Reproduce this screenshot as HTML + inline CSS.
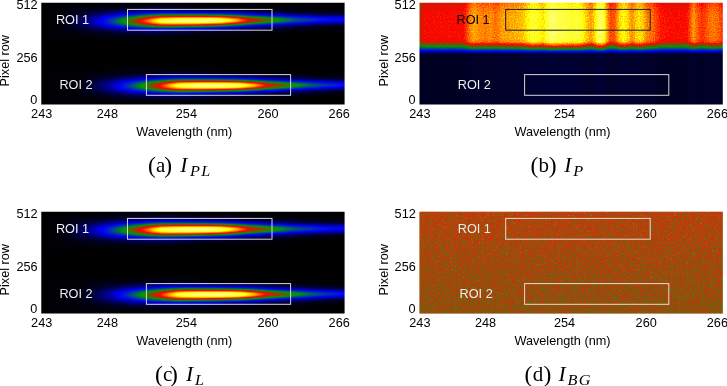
<!DOCTYPE html>
<html><head><meta charset="utf-8"><title>figure</title>
<style>
html,body{margin:0;padding:0;background:#fff;}
body{width:727px;height:386px;overflow:hidden;}
svg{display:block;}
.t text{font-family:"Liberation Sans",sans-serif;font-size:12.7px;}
.c text{font-family:"Liberation Serif",serif;font-size:21px;}
</style></head>
<body>
<svg width="727" height="386" viewBox="0 0 727 386">
<defs>
<linearGradient id="s1" gradientUnits="userSpaceOnUse" x1="35.3" y1="0" x2="350.6" y2="0"><stop offset="0.0000" stop-color="rgb(0,0,0)"/><stop offset="0.0091" stop-color="rgb(0,0,0)"/><stop offset="0.0182" stop-color="rgb(0,0,0)"/><stop offset="0.0273" stop-color="rgb(0,0,0)"/><stop offset="0.0364" stop-color="rgb(1,0,0)"/><stop offset="0.0455" stop-color="rgb(1,0,0)"/><stop offset="0.0545" stop-color="rgb(1,0,0)"/><stop offset="0.0636" stop-color="rgb(2,0,0)"/><stop offset="0.0727" stop-color="rgb(2,0,0)"/><stop offset="0.0818" stop-color="rgb(3,0,0)"/><stop offset="0.0909" stop-color="rgb(4,0,0)"/><stop offset="0.1000" stop-color="rgb(6,0,0)"/><stop offset="0.1091" stop-color="rgb(7,1,0)"/><stop offset="0.1182" stop-color="rgb(9,1,0)"/><stop offset="0.1273" stop-color="rgb(12,1,0)"/><stop offset="0.1364" stop-color="rgb(15,2,0)"/><stop offset="0.1455" stop-color="rgb(17,2,0)"/><stop offset="0.1545" stop-color="rgb(20,3,0)"/><stop offset="0.1636" stop-color="rgb(23,3,0)"/><stop offset="0.1727" stop-color="rgb(26,4,0)"/><stop offset="0.1818" stop-color="rgb(30,5,0)"/><stop offset="0.1909" stop-color="rgb(34,6,0)"/><stop offset="0.2000" stop-color="rgb(38,7,0)"/><stop offset="0.2091" stop-color="rgb(42,8,0)"/><stop offset="0.2182" stop-color="rgb(45,10,0)"/><stop offset="0.2273" stop-color="rgb(49,13,0)"/><stop offset="0.2364" stop-color="rgb(52,16,0)"/><stop offset="0.2455" stop-color="rgb(55,20,0)"/><stop offset="0.2545" stop-color="rgb(58,23,0)"/><stop offset="0.2636" stop-color="rgb(61,28,0)"/><stop offset="0.2727" stop-color="rgb(64,32,0)"/><stop offset="0.2818" stop-color="rgb(67,37,0)"/><stop offset="0.2909" stop-color="rgb(69,43,0)"/><stop offset="0.3000" stop-color="rgb(71,48,0)"/><stop offset="0.3091" stop-color="rgb(72,55,0)"/><stop offset="0.3182" stop-color="rgb(74,62,0)"/><stop offset="0.3273" stop-color="rgb(75,69,0)"/><stop offset="0.3364" stop-color="rgb(76,77,0)"/><stop offset="0.3455" stop-color="rgb(77,86,0)"/><stop offset="0.3545" stop-color="rgb(77,95,0)"/><stop offset="0.3636" stop-color="rgb(77,105,0)"/><stop offset="0.3727" stop-color="rgb(77,115,0)"/><stop offset="0.3818" stop-color="rgb(75,125,0)"/><stop offset="0.3909" stop-color="rgb(73,135,0)"/><stop offset="0.4000" stop-color="rgb(71,146,0)"/><stop offset="0.4091" stop-color="rgb(66,153,0)"/><stop offset="0.4182" stop-color="rgb(62,160,0)"/><stop offset="0.4273" stop-color="rgb(57,168,0)"/><stop offset="0.4364" stop-color="rgb(52,174,0)"/><stop offset="0.4455" stop-color="rgb(47,181,0)"/><stop offset="0.4545" stop-color="rgb(41,187,0)"/><stop offset="0.4636" stop-color="rgb(36,194,0)"/><stop offset="0.4727" stop-color="rgb(31,201,0)"/><stop offset="0.4818" stop-color="rgb(25,207,0)"/><stop offset="0.4909" stop-color="rgb(19,213,0)"/><stop offset="0.5000" stop-color="rgb(14,218,0)"/><stop offset="0.5091" stop-color="rgb(8,224,0)"/><stop offset="0.5182" stop-color="rgb(3,229,0)"/><stop offset="0.5273" stop-color="rgb(0,230,2)"/><stop offset="0.5364" stop-color="rgb(0,225,7)"/><stop offset="0.5455" stop-color="rgb(0,220,11)"/><stop offset="0.5545" stop-color="rgb(0,214,16)"/><stop offset="0.5636" stop-color="rgb(0,208,20)"/><stop offset="0.5727" stop-color="rgb(0,203,24)"/><stop offset="0.5818" stop-color="rgb(0,197,28)"/><stop offset="0.5909" stop-color="rgb(0,191,32)"/><stop offset="0.6000" stop-color="rgb(0,181,35)"/><stop offset="0.6091" stop-color="rgb(0,172,38)"/><stop offset="0.6182" stop-color="rgb(0,163,41)"/><stop offset="0.6273" stop-color="rgb(0,154,44)"/><stop offset="0.6364" stop-color="rgb(0,146,46)"/><stop offset="0.6455" stop-color="rgb(0,135,47)"/><stop offset="0.6545" stop-color="rgb(0,125,48)"/><stop offset="0.6636" stop-color="rgb(0,115,49)"/><stop offset="0.6727" stop-color="rgb(0,106,49)"/><stop offset="0.6818" stop-color="rgb(0,99,50)"/><stop offset="0.6909" stop-color="rgb(0,93,51)"/><stop offset="0.7000" stop-color="rgb(0,87,52)"/><stop offset="0.7091" stop-color="rgb(0,82,53)"/><stop offset="0.7182" stop-color="rgb(0,76,53)"/><stop offset="0.7273" stop-color="rgb(0,71,54)"/><stop offset="0.7364" stop-color="rgb(0,66,54)"/><stop offset="0.7455" stop-color="rgb(0,61,54)"/><stop offset="0.7545" stop-color="rgb(0,57,54)"/><stop offset="0.7636" stop-color="rgb(0,53,54)"/><stop offset="0.7727" stop-color="rgb(0,48,54)"/><stop offset="0.7818" stop-color="rgb(0,45,54)"/><stop offset="0.7909" stop-color="rgb(0,41,53)"/><stop offset="0.8000" stop-color="rgb(0,38,53)"/><stop offset="0.8091" stop-color="rgb(0,34,52)"/><stop offset="0.8182" stop-color="rgb(0,31,51)"/><stop offset="0.8273" stop-color="rgb(0,28,51)"/><stop offset="0.8364" stop-color="rgb(0,26,51)"/><stop offset="0.8455" stop-color="rgb(0,24,51)"/><stop offset="0.8545" stop-color="rgb(0,22,50)"/><stop offset="0.8636" stop-color="rgb(0,20,50)"/><stop offset="0.8727" stop-color="rgb(0,18,50)"/><stop offset="0.8818" stop-color="rgb(0,16,49)"/><stop offset="0.8909" stop-color="rgb(0,14,49)"/><stop offset="0.9000" stop-color="rgb(0,13,48)"/><stop offset="0.9091" stop-color="rgb(0,11,48)"/><stop offset="0.9182" stop-color="rgb(0,10,48)"/><stop offset="0.9273" stop-color="rgb(0,8,48)"/><stop offset="0.9364" stop-color="rgb(0,7,48)"/><stop offset="0.9455" stop-color="rgb(0,6,48)"/><stop offset="0.9545" stop-color="rgb(0,5,48)"/><stop offset="0.9636" stop-color="rgb(0,4,48)"/><stop offset="0.9727" stop-color="rgb(0,3,48)"/><stop offset="0.9818" stop-color="rgb(0,2,48)"/><stop offset="0.9909" stop-color="rgb(0,2,48)"/><stop offset="1.0000" stop-color="rgb(0,2,48)"/></linearGradient>
<linearGradient id="s2" gradientUnits="userSpaceOnUse" x1="35.3" y1="0" x2="350.6" y2="0"><stop offset="0.0000" stop-color="rgb(0,0,0)"/><stop offset="0.0091" stop-color="rgb(0,0,0)"/><stop offset="0.0182" stop-color="rgb(0,0,0)"/><stop offset="0.0273" stop-color="rgb(0,0,0)"/><stop offset="0.0364" stop-color="rgb(0,0,0)"/><stop offset="0.0455" stop-color="rgb(1,0,0)"/><stop offset="0.0545" stop-color="rgb(1,0,0)"/><stop offset="0.0636" stop-color="rgb(1,0,0)"/><stop offset="0.0727" stop-color="rgb(1,0,0)"/><stop offset="0.0818" stop-color="rgb(1,0,0)"/><stop offset="0.0909" stop-color="rgb(2,0,0)"/><stop offset="0.1000" stop-color="rgb(2,0,0)"/><stop offset="0.1091" stop-color="rgb(2,0,0)"/><stop offset="0.1182" stop-color="rgb(2,0,0)"/><stop offset="0.1273" stop-color="rgb(2,0,0)"/><stop offset="0.1364" stop-color="rgb(3,0,0)"/><stop offset="0.1455" stop-color="rgb(4,0,0)"/><stop offset="0.1545" stop-color="rgb(5,0,0)"/><stop offset="0.1636" stop-color="rgb(7,1,0)"/><stop offset="0.1727" stop-color="rgb(9,1,0)"/><stop offset="0.1818" stop-color="rgb(11,1,0)"/><stop offset="0.1909" stop-color="rgb(14,1,0)"/><stop offset="0.2000" stop-color="rgb(16,2,0)"/><stop offset="0.2091" stop-color="rgb(20,2,0)"/><stop offset="0.2182" stop-color="rgb(23,3,0)"/><stop offset="0.2273" stop-color="rgb(26,4,0)"/><stop offset="0.2364" stop-color="rgb(29,4,0)"/><stop offset="0.2455" stop-color="rgb(33,5,0)"/><stop offset="0.2545" stop-color="rgb(37,6,0)"/><stop offset="0.2636" stop-color="rgb(41,8,0)"/><stop offset="0.2727" stop-color="rgb(44,10,0)"/><stop offset="0.2818" stop-color="rgb(48,12,0)"/><stop offset="0.2909" stop-color="rgb(51,15,0)"/><stop offset="0.3000" stop-color="rgb(54,19,0)"/><stop offset="0.3091" stop-color="rgb(57,22,0)"/><stop offset="0.3182" stop-color="rgb(61,26,0)"/><stop offset="0.3273" stop-color="rgb(63,31,0)"/><stop offset="0.3364" stop-color="rgb(66,36,0)"/><stop offset="0.3455" stop-color="rgb(68,41,0)"/><stop offset="0.3545" stop-color="rgb(70,47,0)"/><stop offset="0.3636" stop-color="rgb(72,53,0)"/><stop offset="0.3727" stop-color="rgb(73,60,0)"/><stop offset="0.3818" stop-color="rgb(75,67,0)"/><stop offset="0.3909" stop-color="rgb(76,75,0)"/><stop offset="0.4000" stop-color="rgb(76,83,0)"/><stop offset="0.4091" stop-color="rgb(77,93,0)"/><stop offset="0.4182" stop-color="rgb(77,102,0)"/><stop offset="0.4273" stop-color="rgb(77,113,0)"/><stop offset="0.4364" stop-color="rgb(76,122,0)"/><stop offset="0.4455" stop-color="rgb(74,132,0)"/><stop offset="0.4545" stop-color="rgb(71,143,0)"/><stop offset="0.4636" stop-color="rgb(68,151,0)"/><stop offset="0.4727" stop-color="rgb(63,158,0)"/><stop offset="0.4818" stop-color="rgb(58,166,0)"/><stop offset="0.4909" stop-color="rgb(53,172,0)"/><stop offset="0.5000" stop-color="rgb(48,179,0)"/><stop offset="0.5091" stop-color="rgb(43,186,0)"/><stop offset="0.5182" stop-color="rgb(38,192,0)"/><stop offset="0.5273" stop-color="rgb(32,199,0)"/><stop offset="0.5364" stop-color="rgb(27,205,0)"/><stop offset="0.5455" stop-color="rgb(21,211,0)"/><stop offset="0.5545" stop-color="rgb(15,217,0)"/><stop offset="0.5636" stop-color="rgb(10,222,0)"/><stop offset="0.5727" stop-color="rgb(4,228,0)"/><stop offset="0.5818" stop-color="rgb(0,231,1)"/><stop offset="0.5909" stop-color="rgb(0,226,6)"/><stop offset="0.6000" stop-color="rgb(0,221,10)"/><stop offset="0.6091" stop-color="rgb(0,216,14)"/><stop offset="0.6182" stop-color="rgb(0,210,19)"/><stop offset="0.6273" stop-color="rgb(0,204,23)"/><stop offset="0.6364" stop-color="rgb(0,199,27)"/><stop offset="0.6455" stop-color="rgb(0,193,31)"/><stop offset="0.6545" stop-color="rgb(0,184,34)"/><stop offset="0.6636" stop-color="rgb(0,175,38)"/><stop offset="0.6727" stop-color="rgb(0,165,40)"/><stop offset="0.6818" stop-color="rgb(0,157,43)"/><stop offset="0.6909" stop-color="rgb(0,148,45)"/><stop offset="0.7000" stop-color="rgb(0,138,47)"/><stop offset="0.7091" stop-color="rgb(0,128,48)"/><stop offset="0.7182" stop-color="rgb(0,118,49)"/><stop offset="0.7273" stop-color="rgb(0,109,49)"/><stop offset="0.7364" stop-color="rgb(0,101,50)"/><stop offset="0.7455" stop-color="rgb(0,95,51)"/><stop offset="0.7545" stop-color="rgb(0,89,52)"/><stop offset="0.7636" stop-color="rgb(0,83,53)"/><stop offset="0.7727" stop-color="rgb(0,78,53)"/><stop offset="0.7818" stop-color="rgb(0,73,54)"/><stop offset="0.7909" stop-color="rgb(0,68,54)"/><stop offset="0.8000" stop-color="rgb(0,63,54)"/><stop offset="0.8091" stop-color="rgb(0,58,54)"/><stop offset="0.8182" stop-color="rgb(0,54,54)"/><stop offset="0.8273" stop-color="rgb(0,50,54)"/><stop offset="0.8364" stop-color="rgb(0,46,54)"/><stop offset="0.8455" stop-color="rgb(0,42,53)"/><stop offset="0.8545" stop-color="rgb(0,39,53)"/><stop offset="0.8636" stop-color="rgb(0,35,52)"/><stop offset="0.8727" stop-color="rgb(0,32,52)"/><stop offset="0.8818" stop-color="rgb(0,29,51)"/><stop offset="0.8909" stop-color="rgb(0,27,51)"/><stop offset="0.9000" stop-color="rgb(0,24,51)"/><stop offset="0.9091" stop-color="rgb(0,22,50)"/><stop offset="0.9182" stop-color="rgb(0,20,50)"/><stop offset="0.9273" stop-color="rgb(0,18,50)"/><stop offset="0.9364" stop-color="rgb(0,16,49)"/><stop offset="0.9455" stop-color="rgb(0,15,49)"/><stop offset="0.9545" stop-color="rgb(0,13,48)"/><stop offset="0.9636" stop-color="rgb(0,11,47)"/><stop offset="0.9727" stop-color="rgb(0,10,46)"/><stop offset="0.9818" stop-color="rgb(0,8,44)"/><stop offset="0.9909" stop-color="rgb(0,7,45)"/><stop offset="1.0000" stop-color="rgb(0,6,46)"/></linearGradient>
<linearGradient id="v1" gradientUnits="userSpaceOnUse" x1="0" y1="-3.2" x2="0" y2="53.0"><stop offset="0.0000" stop-color="rgb(0,0,0)"/><stop offset="0.0106" stop-color="rgb(0,0,0)"/><stop offset="0.0213" stop-color="rgb(0,0,0)"/><stop offset="0.0319" stop-color="rgb(0,0,0)"/><stop offset="0.0426" stop-color="rgb(0,0,0)"/><stop offset="0.0532" stop-color="rgb(0,0,0)"/><stop offset="0.0638" stop-color="rgb(1,0,0)"/><stop offset="0.0745" stop-color="rgb(1,0,0)"/><stop offset="0.0851" stop-color="rgb(1,0,0)"/><stop offset="0.0957" stop-color="rgb(2,0,0)"/><stop offset="0.1064" stop-color="rgb(2,0,0)"/><stop offset="0.1170" stop-color="rgb(3,0,0)"/><stop offset="0.1277" stop-color="rgb(4,0,0)"/><stop offset="0.1383" stop-color="rgb(6,0,0)"/><stop offset="0.1489" stop-color="rgb(7,1,0)"/><stop offset="0.1596" stop-color="rgb(10,1,0)"/><stop offset="0.1702" stop-color="rgb(13,2,0)"/><stop offset="0.1809" stop-color="rgb(16,3,0)"/><stop offset="0.1915" stop-color="rgb(20,4,0)"/><stop offset="0.2021" stop-color="rgb(26,6,0)"/><stop offset="0.2128" stop-color="rgb(32,8,0)"/><stop offset="0.2234" stop-color="rgb(39,11,0)"/><stop offset="0.2340" stop-color="rgb(47,16,0)"/><stop offset="0.2447" stop-color="rgb(57,21,1)"/><stop offset="0.2553" stop-color="rgb(68,28,2)"/><stop offset="0.2660" stop-color="rgb(80,37,3)"/><stop offset="0.2766" stop-color="rgb(93,47,6)"/><stop offset="0.2872" stop-color="rgb(107,60,10)"/><stop offset="0.2979" stop-color="rgb(122,74,16)"/><stop offset="0.3085" stop-color="rgb(137,91,25)"/><stop offset="0.3191" stop-color="rgb(153,109,38)"/><stop offset="0.3298" stop-color="rgb(169,129,55)"/><stop offset="0.3404" stop-color="rgb(184,149,76)"/><stop offset="0.3511" stop-color="rgb(199,169,102)"/><stop offset="0.3617" stop-color="rgb(213,189,131)"/><stop offset="0.3723" stop-color="rgb(226,208,161)"/><stop offset="0.3830" stop-color="rgb(236,224,191)"/><stop offset="0.3936" stop-color="rgb(245,238,218)"/><stop offset="0.4043" stop-color="rgb(251,248,239)"/><stop offset="0.4149" stop-color="rgb(254,254,252)"/><stop offset="0.4255" stop-color="rgb(255,255,255)"/><stop offset="0.4362" stop-color="rgb(253,252,248)"/><stop offset="0.4468" stop-color="rgb(249,244,232)"/><stop offset="0.4574" stop-color="rgb(242,233,208)"/><stop offset="0.4681" stop-color="rgb(232,218,180)"/><stop offset="0.4787" stop-color="rgb(221,201,149)"/><stop offset="0.4894" stop-color="rgb(208,182,119)"/><stop offset="0.5000" stop-color="rgb(194,162,91)"/><stop offset="0.5106" stop-color="rgb(179,141,67)"/><stop offset="0.5213" stop-color="rgb(163,121,48)"/><stop offset="0.5319" stop-color="rgb(147,102,32)"/><stop offset="0.5426" stop-color="rgb(131,84,21)"/><stop offset="0.5532" stop-color="rgb(116,69,13)"/><stop offset="0.5638" stop-color="rgb(101,55,8)"/><stop offset="0.5745" stop-color="rgb(87,43,5)"/><stop offset="0.5851" stop-color="rgb(75,33,3)"/><stop offset="0.5957" stop-color="rgb(63,25,1)"/><stop offset="0.6064" stop-color="rgb(53,19,1)"/><stop offset="0.6170" stop-color="rgb(44,14,0)"/><stop offset="0.6277" stop-color="rgb(36,10,0)"/><stop offset="0.6383" stop-color="rgb(29,7,0)"/><stop offset="0.6489" stop-color="rgb(23,5,0)"/><stop offset="0.6596" stop-color="rgb(19,3,0)"/><stop offset="0.6702" stop-color="rgb(15,2,0)"/><stop offset="0.6809" stop-color="rgb(11,1,0)"/><stop offset="0.6915" stop-color="rgb(9,1,0)"/><stop offset="0.7021" stop-color="rgb(7,1,0)"/><stop offset="0.7128" stop-color="rgb(5,0,0)"/><stop offset="0.7234" stop-color="rgb(4,0,0)"/><stop offset="0.7340" stop-color="rgb(3,0,0)"/><stop offset="0.7447" stop-color="rgb(2,0,0)"/><stop offset="0.7553" stop-color="rgb(1,0,0)"/><stop offset="0.7660" stop-color="rgb(1,0,0)"/><stop offset="0.7766" stop-color="rgb(1,0,0)"/><stop offset="0.7872" stop-color="rgb(1,0,0)"/><stop offset="0.7979" stop-color="rgb(0,0,0)"/><stop offset="0.8085" stop-color="rgb(0,0,0)"/><stop offset="0.8191" stop-color="rgb(0,0,0)"/><stop offset="0.8298" stop-color="rgb(0,0,0)"/><stop offset="0.8404" stop-color="rgb(0,0,0)"/><stop offset="0.8511" stop-color="rgb(0,0,0)"/><stop offset="0.8617" stop-color="rgb(0,0,0)"/><stop offset="0.8723" stop-color="rgb(0,0,0)"/><stop offset="0.8830" stop-color="rgb(0,0,0)"/><stop offset="0.8936" stop-color="rgb(0,0,0)"/><stop offset="0.9043" stop-color="rgb(0,0,0)"/><stop offset="0.9149" stop-color="rgb(0,0,0)"/><stop offset="0.9255" stop-color="rgb(0,0,0)"/><stop offset="0.9362" stop-color="rgb(0,0,0)"/><stop offset="0.9468" stop-color="rgb(0,0,0)"/><stop offset="0.9574" stop-color="rgb(0,0,0)"/><stop offset="0.9681" stop-color="rgb(0,0,0)"/><stop offset="0.9787" stop-color="rgb(0,0,0)"/><stop offset="0.9894" stop-color="rgb(0,0,0)"/><stop offset="1.0000" stop-color="rgb(0,0,0)"/></linearGradient>
<linearGradient id="v2" gradientUnits="userSpaceOnUse" x1="0" y1="53.0" x2="0" y2="110.6"><stop offset="0.0000" stop-color="rgb(0,0,0)"/><stop offset="0.0104" stop-color="rgb(0,0,0)"/><stop offset="0.0208" stop-color="rgb(0,0,0)"/><stop offset="0.0312" stop-color="rgb(0,0,0)"/><stop offset="0.0417" stop-color="rgb(0,0,0)"/><stop offset="0.0521" stop-color="rgb(0,0,0)"/><stop offset="0.0625" stop-color="rgb(0,0,0)"/><stop offset="0.0729" stop-color="rgb(0,0,0)"/><stop offset="0.0833" stop-color="rgb(0,0,0)"/><stop offset="0.0938" stop-color="rgb(0,0,0)"/><stop offset="0.1042" stop-color="rgb(0,0,0)"/><stop offset="0.1146" stop-color="rgb(0,0,0)"/><stop offset="0.1250" stop-color="rgb(0,0,0)"/><stop offset="0.1354" stop-color="rgb(0,0,0)"/><stop offset="0.1458" stop-color="rgb(0,0,0)"/><stop offset="0.1562" stop-color="rgb(0,0,0)"/><stop offset="0.1667" stop-color="rgb(0,0,0)"/><stop offset="0.1771" stop-color="rgb(0,0,0)"/><stop offset="0.1875" stop-color="rgb(0,0,0)"/><stop offset="0.1979" stop-color="rgb(0,0,0)"/><stop offset="0.2083" stop-color="rgb(0,0,0)"/><stop offset="0.2188" stop-color="rgb(0,0,0)"/><stop offset="0.2292" stop-color="rgb(1,0,0)"/><stop offset="0.2396" stop-color="rgb(1,0,0)"/><stop offset="0.2500" stop-color="rgb(1,0,0)"/><stop offset="0.2604" stop-color="rgb(2,0,0)"/><stop offset="0.2708" stop-color="rgb(2,0,0)"/><stop offset="0.2812" stop-color="rgb(3,0,0)"/><stop offset="0.2917" stop-color="rgb(5,0,0)"/><stop offset="0.3021" stop-color="rgb(6,1,0)"/><stop offset="0.3125" stop-color="rgb(8,1,0)"/><stop offset="0.3229" stop-color="rgb(11,1,0)"/><stop offset="0.3333" stop-color="rgb(14,2,0)"/><stop offset="0.3438" stop-color="rgb(18,3,0)"/><stop offset="0.3542" stop-color="rgb(23,5,0)"/><stop offset="0.3646" stop-color="rgb(29,7,0)"/><stop offset="0.3750" stop-color="rgb(36,10,0)"/><stop offset="0.3854" stop-color="rgb(45,14,0)"/><stop offset="0.3958" stop-color="rgb(54,19,1)"/><stop offset="0.4062" stop-color="rgb(65,26,2)"/><stop offset="0.4167" stop-color="rgb(77,35,3)"/><stop offset="0.4271" stop-color="rgb(91,46,5)"/><stop offset="0.4375" stop-color="rgb(105,59,9)"/><stop offset="0.4479" stop-color="rgb(121,74,16)"/><stop offset="0.4583" stop-color="rgb(137,91,25)"/><stop offset="0.4688" stop-color="rgb(154,110,39)"/><stop offset="0.4792" stop-color="rgb(170,131,56)"/><stop offset="0.4896" stop-color="rgb(187,152,79)"/><stop offset="0.5000" stop-color="rgb(202,173,107)"/><stop offset="0.5104" stop-color="rgb(216,194,138)"/><stop offset="0.5208" stop-color="rgb(229,213,170)"/><stop offset="0.5312" stop-color="rgb(239,229,200)"/><stop offset="0.5417" stop-color="rgb(247,242,227)"/><stop offset="0.5521" stop-color="rgb(252,251,245)"/><stop offset="0.5625" stop-color="rgb(255,255,254)"/><stop offset="0.5729" stop-color="rgb(254,254,253)"/><stop offset="0.5833" stop-color="rgb(251,248,240)"/><stop offset="0.5938" stop-color="rgb(245,238,219)"/><stop offset="0.6042" stop-color="rgb(236,224,190)"/><stop offset="0.6146" stop-color="rgb(225,207,159)"/><stop offset="0.6250" stop-color="rgb(212,187,127)"/><stop offset="0.6354" stop-color="rgb(197,166,97)"/><stop offset="0.6458" stop-color="rgb(181,145,71)"/><stop offset="0.6562" stop-color="rgb(165,124,50)"/><stop offset="0.6667" stop-color="rgb(148,104,34)"/><stop offset="0.6771" stop-color="rgb(132,85,22)"/><stop offset="0.6875" stop-color="rgb(116,69,13)"/><stop offset="0.6979" stop-color="rgb(100,54,8)"/><stop offset="0.7083" stop-color="rgb(86,42,4)"/><stop offset="0.7188" stop-color="rgb(73,32,2)"/><stop offset="0.7292" stop-color="rgb(61,24,1)"/><stop offset="0.7396" stop-color="rgb(51,17,1)"/><stop offset="0.7500" stop-color="rgb(42,13,0)"/><stop offset="0.7604" stop-color="rgb(34,9,0)"/><stop offset="0.7708" stop-color="rgb(27,6,0)"/><stop offset="0.7812" stop-color="rgb(21,4,0)"/><stop offset="0.7917" stop-color="rgb(17,3,0)"/><stop offset="0.8021" stop-color="rgb(13,2,0)"/><stop offset="0.8125" stop-color="rgb(10,1,0)"/><stop offset="0.8229" stop-color="rgb(7,1,0)"/><stop offset="0.8333" stop-color="rgb(6,0,0)"/><stop offset="0.8438" stop-color="rgb(4,0,0)"/><stop offset="0.8542" stop-color="rgb(3,0,0)"/><stop offset="0.8646" stop-color="rgb(2,0,0)"/><stop offset="0.8750" stop-color="rgb(2,0,0)"/><stop offset="0.8854" stop-color="rgb(1,0,0)"/><stop offset="0.8958" stop-color="rgb(1,0,0)"/><stop offset="0.9062" stop-color="rgb(1,0,0)"/><stop offset="0.9167" stop-color="rgb(0,0,0)"/><stop offset="0.9271" stop-color="rgb(0,0,0)"/><stop offset="0.9375" stop-color="rgb(0,0,0)"/><stop offset="0.9479" stop-color="rgb(0,0,0)"/><stop offset="0.9583" stop-color="rgb(0,0,0)"/><stop offset="0.9688" stop-color="rgb(0,0,0)"/><stop offset="0.9792" stop-color="rgb(0,0,0)"/><stop offset="0.9896" stop-color="rgb(0,0,0)"/><stop offset="1.0000" stop-color="rgb(0,0,0)"/></linearGradient>
<linearGradient id="hb" gradientUnits="userSpaceOnUse" x1="41.3" y1="0" x2="344.6" y2="0"><stop offset="0.0007" stop-color="#878787"/><stop offset="0.0066" stop-color="#919191"/><stop offset="0.0148" stop-color="#989898"/><stop offset="0.0676" stop-color="#999999"/><stop offset="0.1434" stop-color="#999999"/><stop offset="0.1533" stop-color="#a2a2a2"/><stop offset="0.1665" stop-color="#b2b2b2"/><stop offset="0.1797" stop-color="#bbbbbb"/><stop offset="0.1962" stop-color="#b5b5b5"/><stop offset="0.2160" stop-color="#b2b2b2"/><stop offset="0.2357" stop-color="#b6b6b6"/><stop offset="0.2489" stop-color="#afafaf"/><stop offset="0.2588" stop-color="#b2b2b2"/><stop offset="0.2720" stop-color="#b9b9b9"/><stop offset="0.3050" stop-color="#bbbbbb"/><stop offset="0.3379" stop-color="#bfbfbf"/><stop offset="0.3511" stop-color="#c7c7c7"/><stop offset="0.3610" stop-color="#cfcfcf"/><stop offset="0.3742" stop-color="#d6d6d6"/><stop offset="0.3907" stop-color="#d1d1d1"/><stop offset="0.4072" stop-color="#c9c9c9"/><stop offset="0.4204" stop-color="#d6d6d6"/><stop offset="0.4369" stop-color="#e3e3e3"/><stop offset="0.4566" stop-color="#dbdbdb"/><stop offset="0.4830" stop-color="#d9d9d9"/><stop offset="0.5028" stop-color="#d4d4d4"/><stop offset="0.5193" stop-color="#d9d9d9"/><stop offset="0.5358" stop-color="#d1d1d1"/><stop offset="0.5490" stop-color="#c4c4c4"/><stop offset="0.5654" stop-color="#b8b8b8"/><stop offset="0.5786" stop-color="#c7c7c7"/><stop offset="0.5869" stop-color="#d9d9d9"/><stop offset="0.5978" stop-color="#e0e0e0"/><stop offset="0.6076" stop-color="#d9d9d9"/><stop offset="0.6166" stop-color="#bfbfbf"/><stop offset="0.6297" stop-color="#a7a7a7"/><stop offset="0.6446" stop-color="#ababab"/><stop offset="0.6578" stop-color="#c2c2c2"/><stop offset="0.6736" stop-color="#cfcfcf"/><stop offset="0.6874" stop-color="#c4c4c4"/><stop offset="0.7006" stop-color="#b5b5b5"/><stop offset="0.7122" stop-color="#c1c1c1"/><stop offset="0.7237" stop-color="#c7c7c7"/><stop offset="0.7369" stop-color="#c2c2c2"/><stop offset="0.7501" stop-color="#b2b2b2"/><stop offset="0.7666" stop-color="#b0b0b0"/><stop offset="0.7798" stop-color="#a7a7a7"/><stop offset="0.7962" stop-color="#9d9d9d"/><stop offset="0.8259" stop-color="#9a9a9a"/><stop offset="0.8820" stop-color="#9a9a9a"/><stop offset="0.8919" stop-color="#a8a8a8"/><stop offset="0.9034" stop-color="#b8b8b8"/><stop offset="0.9149" stop-color="#adadad"/><stop offset="0.9314" stop-color="#a2a2a2"/><stop offset="0.9446" stop-color="#a8a8a8"/><stop offset="0.9578" stop-color="#afafaf"/><stop offset="0.9677" stop-color="#b1b1b1"/><stop offset="0.9842" stop-color="#adadad"/><stop offset="0.9941" stop-color="#a7a7a7"/><stop offset="0.9993" stop-color="#a3a3a3"/></linearGradient>
<linearGradient id="vb" gradientUnits="userSpaceOnUse" x1="0" y1="2.8" x2="0" y2="104.6"><stop offset="0.0000" stop-color="#000" stop-opacity="0.0600"/><stop offset="0.0511" stop-color="#000" stop-opacity="0.0250"/><stop offset="0.1198" stop-color="#000" stop-opacity="0.0000"/><stop offset="0.3556" stop-color="#000" stop-opacity="0.0000"/><stop offset="0.3802" stop-color="#000" stop-opacity="0.0300"/><stop offset="0.3900" stop-color="#000" stop-opacity="0.0700"/><stop offset="0.3998" stop-color="#000" stop-opacity="0.1400"/><stop offset="0.4175" stop-color="#000" stop-opacity="0.2400"/><stop offset="0.4371" stop-color="#000" stop-opacity="0.3900"/><stop offset="0.4578" stop-color="#000" stop-opacity="0.5600"/><stop offset="0.4637" stop-color="#000" stop-opacity="0.6200"/><stop offset="0.4784" stop-color="#000" stop-opacity="0.7500"/><stop offset="0.4907" stop-color="#000" stop-opacity="0.8500"/><stop offset="0.4980" stop-color="#000" stop-opacity="0.9100"/><stop offset="0.5059" stop-color="#000" stop-opacity="0.9500"/><stop offset="0.5226" stop-color="#000" stop-opacity="0.9550"/><stop offset="1.0000" stop-color="#000" stop-opacity="0.9550"/></linearGradient>
<linearGradient id="vd" gradientUnits="userSpaceOnUse" x1="0" y1="2.8" x2="0" y2="104.6"><stop offset="0.0000" stop-color="#8a8a8a"/><stop offset="1.0000" stop-color="#818181"/></linearGradient>
<filter id="cm" filterUnits="userSpaceOnUse" x="35.3" y="-3.2" width="315.3" height="113.8" color-interpolation-filters="sRGB"><feComponentTransfer><feFuncR type="table" tableValues="0 0 0 1 1 1"/><feFuncG type="table" tableValues="0 0 0.6 0 1 1"/><feFuncB type="table" tableValues="0 1 0 0 0 1"/></feComponentTransfer></filter>
<filter id="cm3" filterUnits="userSpaceOnUse" x="35.3" y="-3.2" width="315.3" height="113.8" color-interpolation-filters="sRGB"><feColorMatrix type="matrix" values="1 1 1 0 0  1 1 1 0 0  1 1 1 0 0  0 0 0 1 0"/><feComponentTransfer><feFuncR type="table" tableValues="0 0 0 1 1 1"/><feFuncG type="table" tableValues="0 0 0.6 0 1 1"/><feFuncB type="table" tableValues="0 1 0 0 0 1"/></feComponentTransfer></filter>
<filter id="cmb" filterUnits="userSpaceOnUse" x="35.3" y="-3.2" width="315.3" height="113.8" color-interpolation-filters="sRGB"><feTurbulence type="fractalNoise" baseFrequency="0.8" numOctaves="1" seed="3" result="n"/><feColorMatrix in="n" type="matrix" values="0 1 0 0 0  0 1 0 0 0  0 1 0 0 0  0 0 0 0 1" result="ng"/><feComposite in="SourceGraphic" in2="ng" operator="arithmetic" k1="0.22" k2="0.89" k3="0" k4="0" result="m"/><feComposite in="m" in2="SourceGraphic" operator="in"/><feComponentTransfer><feFuncR type="table" tableValues="0 0 0 1 1 1"/><feFuncG type="table" tableValues="0 0 0.6 0 1 1"/><feFuncB type="table" tableValues="0 1 0 0 0 1"/></feComponentTransfer><feGaussianBlur stdDeviation="0.6"/></filter>
<filter id="cmd" filterUnits="userSpaceOnUse" x="35.3" y="-3.2" width="315.3" height="113.8" color-interpolation-filters="sRGB"><feTurbulence type="fractalNoise" baseFrequency="1.37" numOctaves="1" seed="11" result="n"/><feColorMatrix in="n" type="matrix" values="0 1 0 0 0  0 1 0 0 0  0 1 0 0 0  0 0 0 0 1" result="ng"/><feComposite in="SourceGraphic" in2="ng" operator="arithmetic" k1="0" k2="1" k3="0.47" k4="-0.235" result="m"/><feComposite in="m" in2="SourceGraphic" operator="in"/><feComponentTransfer><feFuncR type="table" tableValues="0 0 0 1 1 1"/><feFuncG type="table" tableValues="0 0 0.6 0 1 1"/><feFuncB type="table" tableValues="0 1 0 0 0 1"/></feComponentTransfer><feGaussianBlur stdDeviation="0.55"/></filter>
<linearGradient id="vdo" gradientUnits="userSpaceOnUse" x1="0" y1="2.8" x2="0" y2="104.6"><stop offset="0" stop-color="rgb(180,95,30)"/><stop offset="1" stop-color="rgb(154,92,32)"/></linearGradient>
<clipPath id="hc"><rect x="41.3" y="2.8" width="303.30" height="101.80"/></clipPath>
</defs>
<g transform="translate(0,0)">
<g clip-path="url(#hc)"><g filter="url(#cm3)"><rect x="37.3" y="-1.2000000000000002" width="311.30" height="109.80" fill="#000"/><g style="isolation:isolate" transform="translate(200.0,20.6) skewY(-0.42) translate(-200.0,-20.6)"><rect x="35.3" y="-3.2" width="315.30" height="56.20" fill="url(#s1)"/><rect x="32.3" y="-5.2" width="321.30" height="60.20" fill="url(#v1)" style="mix-blend-mode:multiply"/></g><g style="isolation:isolate" transform="translate(200.0,85.6) skewY(-0.25) translate(-200.0,-85.6)"><rect x="35.3" y="53.0" width="315.30" height="57.60" fill="url(#s2)"/><rect x="32.3" y="51.0" width="321.30" height="61.60" fill="url(#v2)" style="mix-blend-mode:multiply"/></g></g></g>
<rect x="127.5" y="9.4" width="144.5" height="20.8" fill="none" stroke="#d6d6d6" stroke-width="1"/>
<rect x="146.4" y="74.6" width="144.2" height="20.7" fill="none" stroke="#d6d6d6" stroke-width="1"/>
<g class="t" opacity="0.996"><text x="55.9" y="24" fill="#f0f0f0">ROI 1</text><text x="59.4" y="88.8" fill="#f0f0f0">ROI 2</text><text x="37.6" y="9" text-anchor="end">512</text><text x="37.6" y="61.5" text-anchor="end">256</text><text x="37.4" y="103.8" text-anchor="end">0</text><text x="41.7" y="117.5" text-anchor="middle">243</text><text x="107.4" y="117.5" text-anchor="middle">248</text><text x="186.4" y="117.5" text-anchor="middle">254</text><text x="268" y="117.5" text-anchor="middle">260</text><text x="339.2" y="117.5" text-anchor="middle">266</text><text x="136.2" y="135.9">Wavelength (nm)</text><text transform="translate(9.4,60.7) rotate(-90)" text-anchor="middle">Pixel row</text></g>
<g class="c" opacity="0.996"><text x="147.9" y="172.6" style="font-size:23.5px">(</text><text x="156.0" y="172.4">a</text><text x="164.2" y="172.6" style="font-size:23.5px">)</text><text x="180.2" y="172.3" style="font-style:italic;font-size:21.5px">I</text><text transform="translate(189.9,175.7) scale(1.16,1)" style="font-style:italic;font-size:14px;letter-spacing:1.2px">PL</text></g>
</g>
<g transform="translate(378.2,0)">
<g clip-path="url(#hc)"><g filter="url(#cmb)"><rect x="37.3" y="-1.2000000000000002" width="311.30" height="109.80" fill="url(#hb)"/><rect x="37.3" y="-1.2000000000000002" width="311.30" height="109.80" fill="url(#vb)"/></g></g>
<rect x="127.5" y="9.4" width="144.5" height="20.8" fill="none" stroke="#1a1a1a" stroke-width="1"/>
<rect x="146.4" y="74.6" width="144.2" height="20.7" fill="none" stroke="#d6d6d6" stroke-width="1"/>
<g class="t" opacity="0.996"><text x="78.30000000000001" y="24" fill="#000">ROI 1</text><text x="79.55000000000001" y="88.8" fill="#f0f0f0">ROI 2</text><text x="37.6" y="9" text-anchor="end">512</text><text x="37.6" y="61.5" text-anchor="end">256</text><text x="37.4" y="103.8" text-anchor="end">0</text><text x="41.7" y="117.5" text-anchor="middle">243</text><text x="107.4" y="117.5" text-anchor="middle">248</text><text x="186.4" y="117.5" text-anchor="middle">254</text><text x="268" y="117.5" text-anchor="middle">260</text><text x="339.2" y="117.5" text-anchor="middle">266</text><text x="136.2" y="135.9">Wavelength (nm)</text><text transform="translate(9.4,60.7) rotate(-90)" text-anchor="middle">Pixel row</text></g>
<g class="c" opacity="0.996"><text x="152.3" y="172.6" style="font-size:23.5px">(</text><text x="160.4" y="172.4">b</text><text x="170.5" y="172.6" style="font-size:23.5px">)</text><text x="186.10000000000005" y="172.3" style="font-style:italic;font-size:21.5px">I</text><text transform="translate(195.0,175.7) scale(1.16,1)" style="font-style:italic;font-size:14px;letter-spacing:1.2px">P</text></g>
</g>
<g transform="translate(0,209.0)">
<g clip-path="url(#hc)"><g filter="url(#cm3)"><rect x="37.3" y="-1.2000000000000002" width="311.30" height="109.80" fill="#000"/><g style="isolation:isolate" transform="translate(200.0,20.6) skewY(-0.42) translate(-200.0,-20.6)"><rect x="35.3" y="-3.2" width="315.30" height="56.20" fill="url(#s1)"/><rect x="32.3" y="-5.2" width="321.30" height="60.20" fill="url(#v1)" style="mix-blend-mode:multiply"/></g><g style="isolation:isolate" transform="translate(200.0,85.6) skewY(-0.25) translate(-200.0,-85.6)"><rect x="35.3" y="53.0" width="315.30" height="57.60" fill="url(#s2)"/><rect x="32.3" y="51.0" width="321.30" height="61.60" fill="url(#v2)" style="mix-blend-mode:multiply"/></g></g></g>
<rect x="127.5" y="9.4" width="144.5" height="20.8" fill="none" stroke="#d6d6d6" stroke-width="1"/>
<rect x="146.4" y="74.6" width="144.2" height="20.7" fill="none" stroke="#d6d6d6" stroke-width="1"/>
<g class="t" opacity="0.996"><text x="55.9" y="24" fill="#f0f0f0">ROI 1</text><text x="59.4" y="88.8" fill="#f0f0f0">ROI 2</text><text x="37.6" y="9" text-anchor="end">512</text><text x="37.6" y="61.5" text-anchor="end">256</text><text x="37.4" y="103.8" text-anchor="end">0</text><text x="41.7" y="117.5" text-anchor="middle">243</text><text x="107.4" y="117.5" text-anchor="middle">248</text><text x="186.4" y="117.5" text-anchor="middle">254</text><text x="268" y="117.5" text-anchor="middle">260</text><text x="339.2" y="117.5" text-anchor="middle">266</text><text x="136.2" y="135.9">Wavelength (nm)</text><text transform="translate(9.4,60.7) rotate(-90)" text-anchor="middle">Pixel row</text></g>
<g class="c" opacity="0.996"><text x="155.0" y="172.6" style="font-size:23.5px">(</text><text x="163.1" y="172.4">c</text><text x="170.1" y="172.6" style="font-size:23.5px">)</text><text x="186.0" y="172.3" style="font-style:italic;font-size:21.5px">I</text><text transform="translate(194.9,175.7) scale(1.16,1)" style="font-style:italic;font-size:14px;letter-spacing:1.2px">L</text></g>
</g>
<g transform="translate(378.2,209.0)">
<g clip-path="url(#hc)"><g filter="url(#cmd)"><rect x="37.3" y="-1.2000000000000002" width="311.30" height="109.80" fill="url(#vd)"/></g><rect x="37.3" y="-1.2000000000000002" width="311.30" height="109.80" fill="url(#vdo)" opacity="0.4"/></g>
<rect x="127.5" y="9.4" width="144.5" height="20.8" fill="none" stroke="#e6ddd0" stroke-width="1"/>
<rect x="146.4" y="74.6" width="144.2" height="20.7" fill="none" stroke="#e6ddd0" stroke-width="1"/>
<g class="t" opacity="0.996"><text x="79.55000000000001" y="24" fill="#eee">ROI 1</text><text x="81.40000000000003" y="88.8" fill="#eee">ROI 2</text><text x="37.6" y="9" text-anchor="end">512</text><text x="37.6" y="61.5" text-anchor="end">256</text><text x="37.4" y="103.8" text-anchor="end">0</text><text x="41.7" y="117.5" text-anchor="middle">243</text><text x="107.4" y="117.5" text-anchor="middle">248</text><text x="186.4" y="117.5" text-anchor="middle">254</text><text x="268" y="117.5" text-anchor="middle">260</text><text x="339.2" y="117.5" text-anchor="middle">266</text><text x="136.2" y="135.9">Wavelength (nm)</text><text transform="translate(9.4,60.7) rotate(-90)" text-anchor="middle">Pixel row</text></g>
<g class="c" opacity="0.996"><text x="146.4" y="172.6" style="font-size:23.5px">(</text><text x="154.5" y="172.4">d</text><text x="165.3" y="172.6" style="font-size:23.5px">)</text><text x="180.29999999999998" y="172.3" style="font-style:italic;font-size:21.5px">I</text><text transform="translate(189.2,175.7) scale(1.16,1)" style="font-style:italic;font-size:14px;letter-spacing:1.2px">BG</text></g>
</g>
</svg>
</body></html>
